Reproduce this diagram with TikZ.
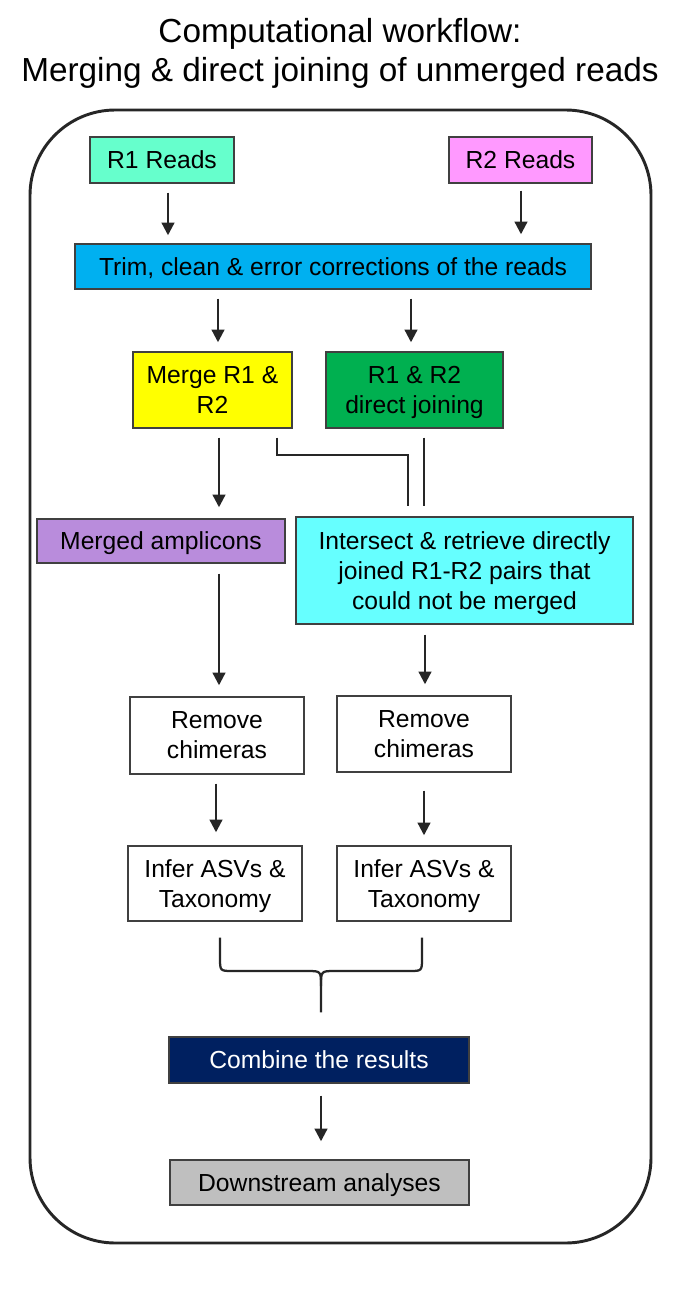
\documentclass[tikz,border=0pt]{standalone}
\usepackage{fontspec}
\setmainfont{Liberation Sans}
\usetikzlibrary{arrows.meta,calc}
\definecolor{cRone}{HTML}{66FFCC}
\definecolor{cRtwo}{HTML}{FF99FF}
\definecolor{cTrim}{HTML}{00B0F0}
\definecolor{cMerge}{HTML}{FFFF00}
\definecolor{cDirect}{HTML}{00B050}
\definecolor{cMerged}{RGB}{185,140,220}
\definecolor{cInter}{HTML}{66FFFF}
\definecolor{cComb}{HTML}{002060}
\definecolor{cDown}{HTML}{BFBFBF}
\definecolor{boxline}{HTML}{404040}
\definecolor{arrline}{HTML}{262626}
\begin{document}
\begin{tikzpicture}[x=0.75pt,y=-0.75pt,
  box/.style={draw=boxline, line width=1.1pt, fill=white, text=black,
    font=\fontsize{18.5}{22.5}\selectfont, align=center, inner sep=0pt, text depth=0pt},
  sz/.style 2 args={minimum width=#1*0.75pt, minimum height=#2*0.75pt},
  titletext/.style={font=\fontsize{25}{30}\selectfont, text=black, inner sep=0pt},
  arr/.style={draw=arrline, line width=1.7pt, -{Triangle[length=9.5pt,width=9.5pt]}},
  conn/.style={draw=arrline, line width=1.7pt},
  frame/.style={draw=arrline, line width=2.2pt, rounded corners=64pt}
]
\useasboundingbox (0,0) rectangle (679,1291);
\fill[white] (0,0) rectangle (679,1291);

% title
\node[titletext, anchor=base] (t1) at (340,43) {Computational workflow:};
\node[titletext, anchor=base] (t2) at (340,82) {Merging \& direct joining of unmerged reads};

% frame
\draw[frame] (30,110) rectangle (651,1243);

% boxes
\node[box, sz={144}{46}, fill=cRone]   (r1)     at (162,160)     {R1 Reads};
\node[box, sz={143}{46}, fill=cRtwo]   (r2)     at (520.5,160)   {R2 Reads};
\node[box, sz={516}{45}, fill=cTrim]   (trim)   at (333,266.5)   {Trim, clean \& error corrections of the reads};
\node[box, sz={159}{76}, fill=cMerge]  (merge)  at (212.5,390)   {Merge R1 \&\\R2};
\node[box, sz={177}{76}, fill=cDirect] (direct) at (414.5,390)   {R1 \& R2\\direct joining};
\node[box, sz={248}{44}, fill=cMerged] (merged) at (161,541)     {Merged amplicons};
\node[box, sz={337}{107}, fill=cInter] (inter)  at (464.5,570.5) {Intersect \& retrieve directly\\joined R1-R2 pairs that\\could not be merged};
\node[box, sz={174}{77}]               (rc1)    at (217,735.5)   {Remove\\chimeras};
\node[box, sz={174}{76}]               (rc2)    at (424,734)     {Remove\\chimeras};
\node[box, sz={174}{75}]               (ia1)    at (215,883.5)   {Infer ASVs \&\\Taxonomy};
\node[box, sz={174}{75}]               (ia2)    at (424,883.5)   {Infer ASVs \&\\Taxonomy};
\node[box, sz={300}{46}, fill=cComb, text=white] (comb) at (319,1060) {Combine the results};
\node[box, sz={299}{45}, fill=cDown]   (down)   at (319.5,1182.5) {Downstream analyses};

% arrows
\draw[arr, shorten <=6.75pt, shorten >=6pt]    (r1.south -| 168,0)     -- (trim.north -| 168,0);
\draw[arr, shorten <=5.25pt, shorten >=6.75pt] (r2.south -| 521,0)     -- (trim.north -| 521,0);
\draw[arr, shorten <=6.75pt, shorten >=6.75pt] (trim.south -| 218,0)   -- (merge.north -| 218,0);
\draw[arr, shorten <=6.75pt, shorten >=6.75pt] (trim.south -| 411,0)   -- (direct.north -| 411,0);
\draw[arr, shorten <=6.75pt, shorten >=8.25pt] (merge.south -| 219,0)  -- (merged.north -| 219,0);
\draw[conn] ($(merge.south)+(64.5,9)$) -- ++(0,17) -| ($(inter.north)+(-56.5,-10)$);
\draw[conn, shorten <=6.75pt, shorten >=7.5pt] (direct.south -| 424,0) -- (inter.north -| 424,0);
\draw[arr, shorten <=7.5pt, shorten >=8.25pt]  (merged.south -| 219,0) -- (rc1.north -| 219,0);
\draw[arr, shorten <=7.5pt, shorten >=8.25pt]  (inter.south -| 425,0)  -- (rc2.north -| 425,0);
\draw[arr, shorten <=6.75pt, shorten >=9.75pt] (rc1.south -| 216,0)    -- (ia1.north -| 216,0);
\draw[arr, shorten <=13.5pt, shorten >=7.5pt]  (rc2.south -| 424,0)    -- (ia2.north -| 424,0);
\draw[arr, shorten <=9pt, shorten >=13.5pt]    (comb.south -| 321,0)   -- (down.north -| 321,0);

% brace
\coordinate (bl) at ($(ia1.south)+(5,16)$);
\coordinate (br) at ($(ia2.south)+(-2,16)$);
\coordinate (bt) at ($(comb.north)+(2,-24)$);
\draw[conn] (bl) -- (220,958) .. controls (220,971) .. (233,971) -- (307,971) .. controls (321,971) .. (321,986) -- (bt);
\draw[conn] (br) -- (422,958) .. controls (422,971) .. (409,971) -- (335,971) .. controls (321,971) .. (321,986);
\end{tikzpicture}
\end{document}
